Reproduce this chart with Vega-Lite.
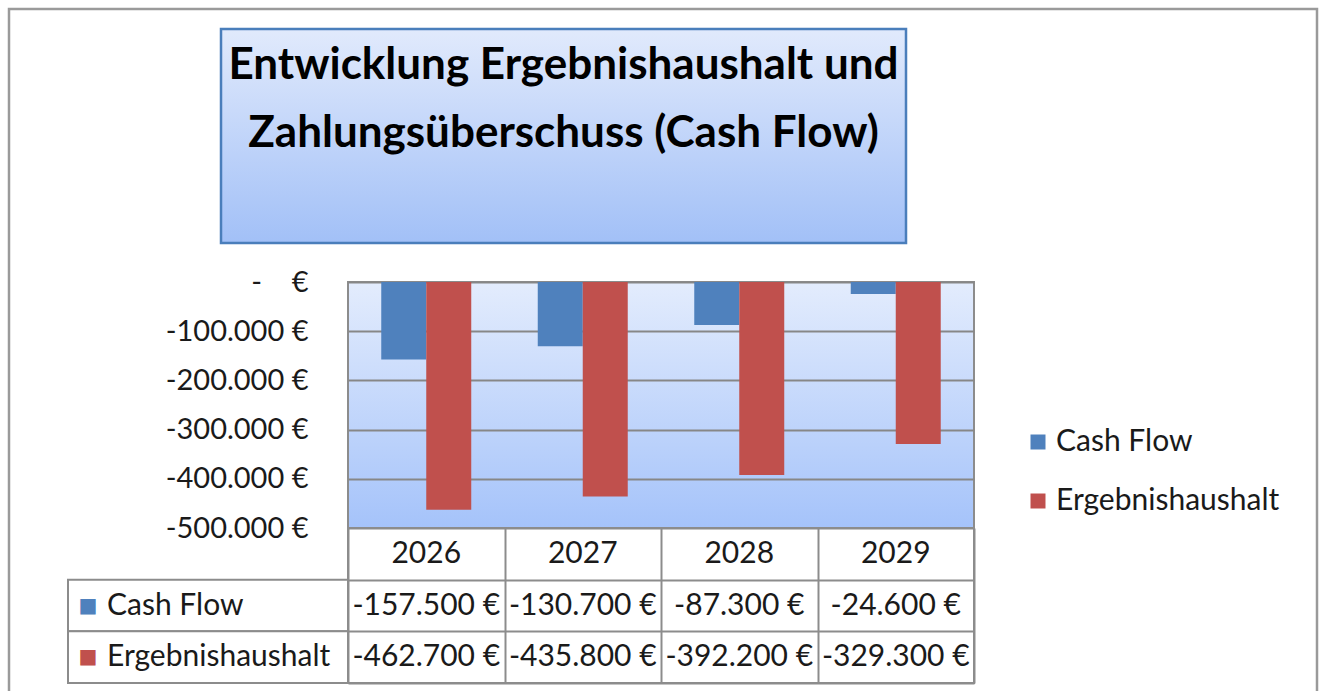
{
  "$schema": "https://vega.github.io/schema/vega-lite/v6.json",
  "padding": {"left": 7, "top": 7, "right": 0, "bottom": 0},
  "background": "white",
  "config": {
    "view": {"stroke": null},
    "font": "Lato",
    "locale": {"number": {"decimal": ",", "thousands": ".", "grouping": [3], "currency": ["", " €"], "minus": "-"}}
  },
  "datasets": {
    "cf": [
      {"year": "2026", "series": "Cash Flow", "value": -157500},
      {"year": "2026", "series": "Ergebnishaushalt", "value": -462700},
      {"year": "2027", "series": "Cash Flow", "value": -130700},
      {"year": "2027", "series": "Ergebnishaushalt", "value": -435800},
      {"year": "2028", "series": "Cash Flow", "value": -87300},
      {"year": "2028", "series": "Ergebnishaushalt", "value": -392200},
      {"year": "2029", "series": "Cash Flow", "value": -24600},
      {"year": "2029", "series": "Ergebnishaushalt", "value": -329300}
    ],
    "title": [{"text": "Entwicklung Ergebnishaushalt und\nZahlungsüberschuss (Cash Flow)"}]
  },
  "columns": 2,
  "spacing": 0,
  "bounds": "flush",
  "align": "each",
  "resolve": {
    "scale": {"x": "independent", "y": "independent", "color": "independent"},
    "legend": {"color": "independent"}
  },
  "concat": [
    {
      "width": 280, "height": 253,
      "data": {"values": []},
      "mark": "point"
    },
    {
      "width": 558, "height": 214,
      "data": {"name": "title"},
      "resolve": {"scale": {"x": "independent", "y": "independent"}},
      "layer": [
        {
          "mark": {"type": "rect", "fill": "transparent", "stroke": "#9a9a9a", "strokeWidth": 2.5},
          "encoding": {
            "x": {"datum": 0, "type": "quantitative", "scale": {"domain": [0, 1], "range": [-339, 969]}, "axis": null},
            "x2": {"datum": 1},
            "y": {"datum": 0, "type": "quantitative", "scale": {"domain": [0, 1], "range": [-20, 672]}, "axis": null},
            "y2": {"datum": 1}
          }
        },
        {
          "encoding": {
            "x": {"datum": 0.5, "type": "quantitative", "scale": {"domain": [0, 1], "range": [-127, 558]}, "axis": null}
          },
          "layer": [
            {
              "mark": {
                "type": "rect",
                "fill": {"gradient": "linear", "x1": 0, "y1": 0, "x2": 0, "y2": 1,
                         "stops": [{"offset": 0, "color": "#e1eafc"}, {"offset": 1, "color": "#a2c0f7"}]},
                "stroke": "#4a7ebb", "strokeWidth": 2.5
              },
              "encoding": {
                "x": {"datum": 0, "type": "quantitative"},
                "x2": {"datum": 1}
              }
            },
            {
              "mark": {"type": "text", "lineBreak": "\n", "fontSize": 44, "fontWeight": "bold", "lineHeight": 68, "dy": -70, "color": "#000000"},
              "encoding": {"text": {"field": "text"}}
            }
          ]
        }
      ]
    },
    {
      "width": 280, "height": 246,
      "data": {"values": []},
      "mark": "point"
    },
    {
      "width": 626, "height": 246,
      "view": {
        "fill": {"gradient": "linear", "x1": 0, "y1": 0, "x2": 0, "y2": 1,
                 "stops": [{"offset": 0, "color": "#e3ecfd"}, {"offset": 1, "color": "#a5c3fa"}]},
        "stroke": "#8c8c8c", "strokeWidth": 2
      },
      "data": {"name": "cf"},
      "mark": {"type": "bar"},
      "encoding": {
        "x": {"field": "year", "type": "nominal", "scale": {"paddingInner": 0.425, "paddingOuter": 0.2125}, "axis": null},
        "xOffset": {"field": "series", "type": "nominal", "scale": {"domain": ["Cash Flow", "Ergebnishaushalt"], "paddingInner": 0, "paddingOuter": 0}},
        "y": {
          "field": "value", "type": "quantitative",
          "scale": {"domain": [-500000, 0], "nice": false, "zero": true},
          "axis": {
            "values": [0, -100000, -200000, -300000, -400000, -500000],
            "format": "$,.0f",
            "labelExpr": "datum.value === 0 ? '-\u00a0\u00a0\u00a0\u00a0€' : datum.label",
            "title": null, "domain": false, "ticks": false,
            "grid": true, "gridColor": "#878787", "gridWidth": 2,
            "labelFontSize": 29, "labelColor": "#1a1a1a", "labelPadding": 40, "labelFont": "Lato"
          }
        },
        "color": {
          "field": "series", "type": "nominal",
          "scale": {"domain": ["Cash Flow", "Ergebnishaushalt"], "range": ["#4f81bd", "#c0504d"]},
          "legend": {
            "orient": "none", "legendX": 675, "legendY": 145, "title": null,
            "symbolType": "square", "symbolSize": 225, "symbolStrokeWidth": 0, "symbolOpacity": 1,
            "labelFontSize": 30, "labelFont": "Lato", "labelColor": "#1a1a1a", "labelLimit": 500,
            "rowPadding": 29, "labelOffset": 3, "direction": "vertical"
          }
        }
      }
    },
    {
      "width": 280, "height": 155,
      "data": {"name": "cf"},
      "transform": [{"filter": "datum.year === '2026'"}],
      "encoding": {
        "y": {"field": "series", "type": "nominal", "scale": {"domain": ["header", "Cash Flow", "Ergebnishaushalt"], "paddingInner": 0, "paddingOuter": 0}, "axis": null}
      },
      "layer": [
        {"mark": {"type": "rect", "fill": "white", "stroke": "#8c8c8c", "strokeWidth": 2}},
        {
          "mark": {"type": "text", "text": "■", "font": "DejaVu Sans", "fontSize": 20, "dx": -120, "align": "center", "baseline": "middle"},
          "encoding": {
            "color": {"field": "series", "type": "nominal", "scale": {"domain": ["Cash Flow", "Ergebnishaushalt"], "range": ["#4f81bd", "#c0504d"]}, "legend": null}
          }
        },
        {
          "mark": {"type": "text", "fontSize": 30, "dx": -101, "align": "left", "baseline": "middle", "color": "#1a1a1a"},
          "encoding": {"text": {"field": "series"}}
        }
      ]
    },
    {
      "width": 626, "height": 155,
      "view": {"stroke": "#8c8c8c", "strokeWidth": 2, "fill": "white"},
      "data": {"name": "cf"},
      "encoding": {
        "x": {"field": "year", "type": "nominal", "scale": {"paddingInner": 0, "paddingOuter": 0},
              "axis": {"orient": "top", "grid": true, "tickBand": "extent", "gridColor": "#8c8c8c", "gridWidth": 2, "labels": false, "ticks": false, "domain": false, "title": null}}
      },
      "layer": [
        {
          "mark": {"type": "text", "fontSize": 30, "color": "#1a1a1a", "baseline": "middle"},
          "encoding": {
            "y": {"field": "series", "type": "nominal", "scale": {"domain": ["header", "Cash Flow", "Ergebnishaushalt"], "paddingInner": 0, "paddingOuter": 0},
                  "axis": {"grid": true, "tickBand": "extent", "gridColor": "#8c8c8c", "gridWidth": 2, "labels": false, "ticks": false, "domain": false, "title": null}},
            "text": {"field": "value", "type": "quantitative", "format": "$,.0f"}
          }
        },
        {
          "transform": [{"filter": "datum.series === 'Cash Flow'"}],
          "mark": {"type": "text", "fontSize": 30, "color": "#1a1a1a", "baseline": "middle"},
          "encoding": {
            "y": {"datum": "header", "type": "nominal"},
            "text": {"field": "year"}
          }
        }
      ]
    }
  ]
}
